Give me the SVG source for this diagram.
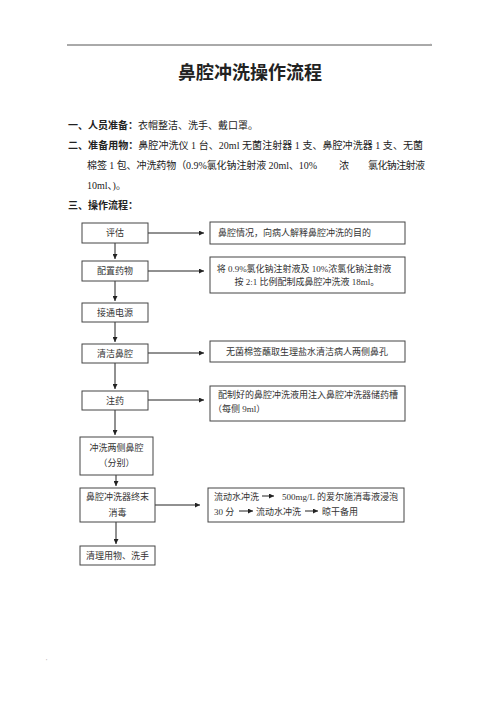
<svg xmlns="http://www.w3.org/2000/svg" width="500" height="708" viewBox="0 0 500 708">
<defs>
<marker id="ah" viewBox="0 0 10 10" refX="10" refY="5" markerWidth="6" markerHeight="5" orient="auto" markerUnits="userSpaceOnUse">
<path d="M0,0 L10,5 L0,10 z" fill="#222"/>
</marker>
<style>
.bx{fill:#fff;stroke:#444;stroke-width:1}
.t{font-family:"Liberation Serif","Noto Sans CJK SC",serif;font-size:9px;fill:#333}
.c{text-anchor:middle}
.b{font-family:"Liberation Serif","Noto Sans CJK SC",serif;font-size:10px;fill:#222}
.bb{font-weight:bold}
.ln{stroke:#222;stroke-width:1;fill:none}
</style>
</defs>
<rect width="500" height="708" fill="#fff"/>
<line x1="67" y1="45" x2="432" y2="45" stroke="#555" stroke-width="1"/>
<text x="430" y="44" font-family="Liberation Sans, sans-serif" font-size="5" fill="#aaa">.</text>
<text x="250" y="79" text-anchor="middle" font-family="Liberation Serif,'Noto Sans CJK SC',serif" font-size="18" font-weight="bold" fill="#222">鼻腔冲洗操作流程</text>

<g id="intro">
<text class="b" x="68" y="129"><tspan class="bb">一、人员准备：</tspan>衣帽整洁、洗手、戴口罩。</text>
<text class="b" x="68" y="149" textLength="355" lengthAdjust="spacing"><tspan class="bb">二、准备用物：</tspan>鼻腔冲洗仪 1 台、20ml 无菌注射器 1 支、鼻腔冲洗器 1 支、无菌</text>
<text class="b" x="87" y="169" textLength="230" lengthAdjust="spacing">棉签 1 包、冲洗药物（0.9%氯化钠注射液 20ml、10%</text>
<text class="b" x="339" y="169">浓</text>
<text class="b" x="368" y="169" textLength="57" lengthAdjust="spacing">氯化钠注射液</text>
<text class="b" x="87" y="189">10ml、)。</text>
<text class="b bb" x="68" y="209">三、操作流程：</text>
</g>

<g id="connectors">
<line class="ln" x1="148" y1="233" x2="204" y2="233" marker-end="url(#ah)"/>
<line class="ln" x1="148" y1="271" x2="204" y2="271" marker-end="url(#ah)"/>
<line class="ln" x1="148" y1="353" x2="204" y2="353" marker-end="url(#ah)"/>
<line class="ln" x1="148" y1="400" x2="204" y2="400" marker-end="url(#ah)"/>
<line class="ln" x1="155" y1="505" x2="200" y2="505" marker-end="url(#ah)"/>
<line class="ln" x1="115" y1="243" x2="115" y2="259" marker-end="url(#ah)"/>
<line class="ln" x1="115" y1="281" x2="115" y2="301" marker-end="url(#ah)"/>
<line class="ln" x1="115" y1="322" x2="115" y2="342" marker-end="url(#ah)"/>
<line class="ln" x1="115" y1="363" x2="115" y2="389" marker-end="url(#ah)"/>
<line class="ln" x1="115" y1="410" x2="115" y2="435" marker-end="url(#ah)"/>
<line class="ln" x1="116" y1="475" x2="116" y2="486" marker-end="url(#ah)"/>
<line class="ln" x1="116" y1="522" x2="116" y2="544" marker-end="url(#ah)"/>
</g>

<g id="n-pinggu"><rect class="bx" x="82" y="223" width="66" height="20"/><text class="t c" x="115" y="236">评估</text></g>
<g id="n-peizhi"><rect class="bx" x="82" y="261" width="66" height="20"/><text class="t c" x="115" y="274">配置药物</text></g>
<g id="n-jietong"><rect class="bx" x="82" y="303" width="66" height="19"/><text class="t c" x="115" y="316">接通电源</text></g>
<g id="n-qingjie"><rect class="bx" x="82" y="344" width="66" height="19"/><text class="t c" x="115" y="357">清洁鼻腔</text></g>
<g id="n-zhuyao"><rect class="bx" x="82" y="391" width="66" height="19"/><text class="t c" x="115" y="404">注药</text></g>
<g id="n-chongxi"><rect class="bx" x="80" y="437" width="73" height="38"/><text class="t c" x="116.5" y="451">冲洗两侧鼻腔</text><text class="t c" x="116.5" y="466">（分别）</text></g>
<g id="n-xiaodu"><rect class="bx" x="80" y="488" width="75" height="34"/><text class="t c" x="117.5" y="500">鼻腔冲洗器终末</text><text class="t c" x="117.5" y="516">消毒</text></g>
<g id="n-qingli"><rect class="bx" x="80" y="546" width="75" height="19"/><text class="t c" x="117.5" y="559">清理用物、洗手</text></g>

<g id="r-pinggu"><rect class="bx" x="210" y="222" width="195" height="22"/><text class="t" x="218" y="236">鼻腔情况，向病人解释鼻腔冲洗的目的</text></g>
<g id="r-peizhi"><rect class="bx" x="210" y="257" width="195" height="36"/><text class="t c" x="304" y="272">将 0.9%氯化钠注射液及 10%浓氯化钠注射液</text><text class="t c" x="307" y="285">按 2:1 比例配制成鼻腔冲洗液 18ml。</text></g>
<g id="r-qingjie"><rect class="bx" x="210" y="341" width="195" height="21"/><text class="t c" x="307" y="355">无菌棉签蘸取生理盐水清洁病人两侧鼻孔</text></g>
<g id="r-zhuyao"><rect class="bx" x="210" y="386" width="195" height="35"/><text class="t" x="218" y="398">配制好的鼻腔冲洗液用注入鼻腔冲洗器储药槽</text><text class="t" x="213" y="412">（每侧 9ml）</text></g>
<g id="r-xiaodu"><rect class="bx" x="208" y="488" width="196" height="34"/>
<text class="t" x="214" y="500">流动水冲洗</text>
<line class="ln" x1="262" y1="496" x2="274" y2="496" marker-end="url(#ah)"/>
<text class="t" x="282" y="500">500mg/L 的爱尔施消毒液浸泡</text>
<text class="t" x="214" y="515">30 分</text>
<line class="ln" x1="239" y1="511" x2="253" y2="511" marker-end="url(#ah)"/>
<text class="t" x="256" y="515">流动水冲洗</text>
<line class="ln" x1="305" y1="511" x2="318" y2="511" marker-end="url(#ah)"/>
<text class="t" x="322" y="515">晾干备用</text>
</g>
<text x="46" y="663" font-family="Liberation Sans, sans-serif" font-size="6" fill="#999">'</text>
</svg>
